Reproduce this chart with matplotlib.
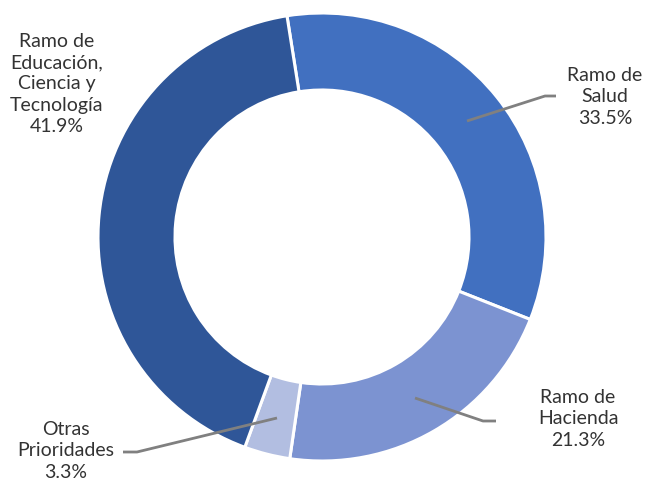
import matplotlib.pyplot as plt

plt.rcParams['font.family'] = ['Lato', 'DejaVu Sans']

# datos
categorias = ['Ramo de\nSalud', 'Ramo de\nHacienda', 'Otras\nPrioridades',
              'Ramo de\nEducación,\nCiencia y\nTecnología']
valores = [33.5, 21.3, 3.3, 41.9]
colores = ['#4170C0', '#7C93D1', '#B2BEE1', '#2F5698']

W, H = 650, 482


def py(y):
    # pixel (desde arriba) -> coordenada de datos
    return H - y


fig = plt.figure(figsize=(6.5, 4.82), dpi=100)
ax = fig.add_axes([0, 0, 1, 1])

cx, cy, r = 322, py(237), 224
ax.pie(valores, colors=colores, startangle=99, counterclock=False,
       center=(cx, cy), radius=r, frame=True,
       wedgeprops=dict(width=77, edgecolor='white', linewidth=2.2))
ax.set_xlim(0, W)
ax.set_ylim(0, H)
ax.axis('off')

etiquetas = [f'{c}\n{v:.1f}%' for c, v in zip(categorias, valores)]
pos_texto = [(605, 97), (578, 419), (66, 451), (57, 84)]
for txt, (tx, ty) in zip(etiquetas, pos_texto):
    ax.text(tx, py(ty), txt, ha='center', va='center', fontsize=14,
            color='#333333', linespacing=1.3)

# lineas guia
guias = [
    [(467, 121), (545, 96), (556, 96)],
    [(415, 398), (483, 421), (496, 421)],
    [(277, 418), (137, 452), (123, 452)],
]
for g in guias:
    xs = [p[0] for p in g]
    ys = [py(p[1]) for p in g]
    ax.plot(xs, ys, color='#808080', lw=2, solid_capstyle='butt')

fig.savefig('out.png', dpi=100)
